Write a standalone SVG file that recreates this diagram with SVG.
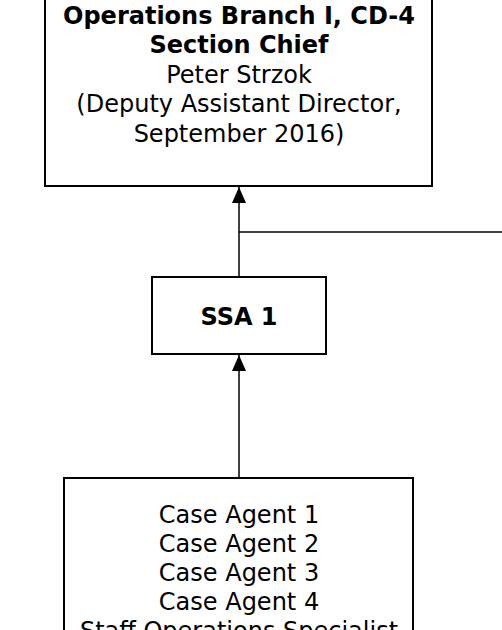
<svg xmlns="http://www.w3.org/2000/svg" width="502" height="630" viewBox="0 0 502 630">
<style>
.box{fill:#fff;stroke:#000;stroke-width:2}
.t{font-family:"DejaVu Sans",Verdana,sans-serif;font-size:24px;text-anchor:middle;fill:#000}
.b{font-weight:bold}
.c{stroke:#000;stroke-width:1.5;fill:none}
</style>
<defs>
<marker id="ah" viewBox="0 0 16 16" refX="16" refY="8" markerWidth="16" markerHeight="16" markerUnits="userSpaceOnUse" orient="auto">
<path d="M0,1 L16,8 L0,15 Z" fill="#000"/>
</marker>
</defs>
<rect width="502" height="630" fill="#fff"/>
<g id="connectors">
<line class="c" x1="239" y1="277" x2="239" y2="187" marker-end="url(#ah)"/>
<line class="c" x1="239" y1="232" x2="502" y2="232"/>
<line class="c" x1="239" y1="478" x2="239" y2="355" marker-end="url(#ah)"/>
</g>
<g id="section-chief">
<rect class="box" x="45" y="-10" width="387" height="196"/>
<text class="t b" x="239" y="24">Operations Branch I, CD-4</text>
<text class="t b" x="239" y="53">Section Chief</text>
<text class="t" x="239" y="83">Peter Strzok</text>
<text class="t" x="239" y="112">(Deputy Assistant Director,</text>
<text class="t" x="239" y="142">September 2016)</text>
</g>
<g id="ssa1">
<rect class="box" x="152" y="277" width="174" height="77"/>
<text class="t b" x="239" y="325">SSA 1</text>
</g>
<g id="case-agents">
<rect class="box" x="64" y="478" width="349" height="170"/>
<text class="t" x="239" y="523">Case Agent 1</text>
<text class="t" x="239" y="552">Case Agent 2</text>
<text class="t" x="239" y="581">Case Agent 3</text>
<text class="t" x="239" y="610">Case Agent 4</text>
<text class="t" x="239" y="639">Staff Operations Specialist</text>
</g>
</svg>
